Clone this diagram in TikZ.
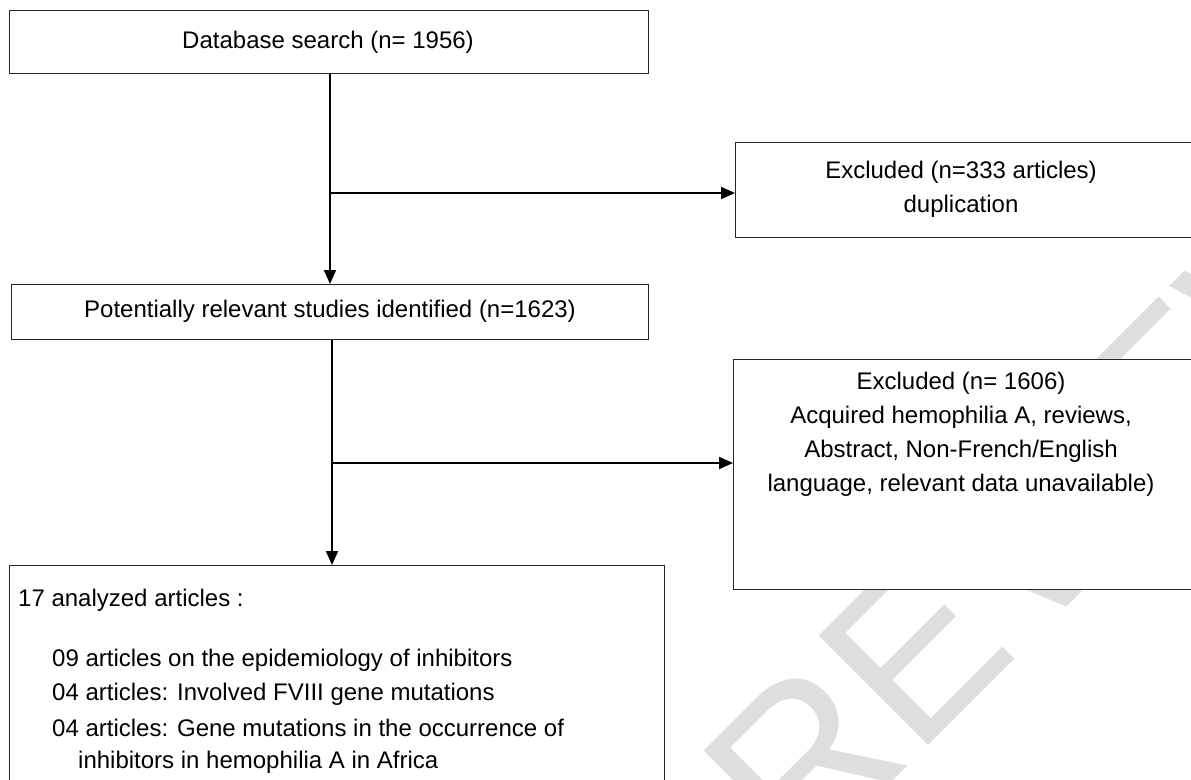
\documentclass[tikz,border=0pt]{standalone}
\usepackage{fontspec}
\setmainfont{Liberation Sans}
\usetikzlibrary{arrows.meta}
\begin{document}
\begin{tikzpicture}[x=1pt,y=-1pt,
  box/.style={draw=black!85, line width=1.4pt, fill=white, anchor=north west, inner sep=0pt},
  txt/.style={font=\fontsize{24}{34}\selectfont, inner sep=0pt},
  conn/.style={line width=2pt, -{Triangle[length=14pt,width=12pt]}},
  wm/.style={text=black!13, font=\fontsize{225}{225}\selectfont, inner sep=0pt}]
\useasboundingbox (0,0) rectangle (1191,779);
% watermark
\node[wm, rotate=45] (wmark) at (1060,505) {REVIEW};
% boxes
\node[box, minimum width=639pt, minimum height=63pt] (db) at (9,10) {};
\node[txt] (dbt) at (328,42) {Database search (n= 1956)};
\node[box, minimum width=460pt, minimum height=95pt] (ex1) at (735,142) {};
\node[txt, align=center] (ex1t) at (961,189) {Excluded (n=333 articles)\\duplication};
\node[box, minimum width=637pt, minimum height=55pt] (pot) at (11,284) {};
\node[txt] (pott) at (330,311) {Potentially relevant studies identified (n=1623)};
\node[box, minimum width=460pt, minimum height=230pt] (ex2) at (733,359) {};
\node[txt, align=center, anchor=north] (ex2t) at (961,372) {Excluded (n= 1606)\\Acquired hemophilia A, reviews,\\Abstract, Non-French/English\\language, relevant data unavailable)};
\node[box, minimum width=655pt, minimum height=260pt] (an) at (9,565) {};
\node[txt, anchor=west] (an0) at (18,600) {17 analyzed articles :};
\node[txt, anchor=west] (an1) at (52,660) {09 articles on the epidemiology of inhibitors};
\node[txt, anchor=west] (an2) at (52,694) {04 articles: Involved FVIII gene mutations};
\node[txt, anchor=west] (an3) at (52,728) {04 articles: Gene mutations in the occurrence of};
\node[txt, anchor=west] (an4) at (78,762) {inhibitors in hemophilia A in Africa};
% connectors
\coordinate (b1) at (330,193);
\coordinate (b2) at (332,463);
\draw[conn] (db.south -| b1) -- (pot.north -| b1);
\draw[conn] (b1) -- (b1 -| ex1.west);
\draw[conn] (pot.south -| b2) -- (an.north -| b2);
\draw[conn] (b2) -- (b2 -| ex2.west);
\end{tikzpicture}
\end{document}
